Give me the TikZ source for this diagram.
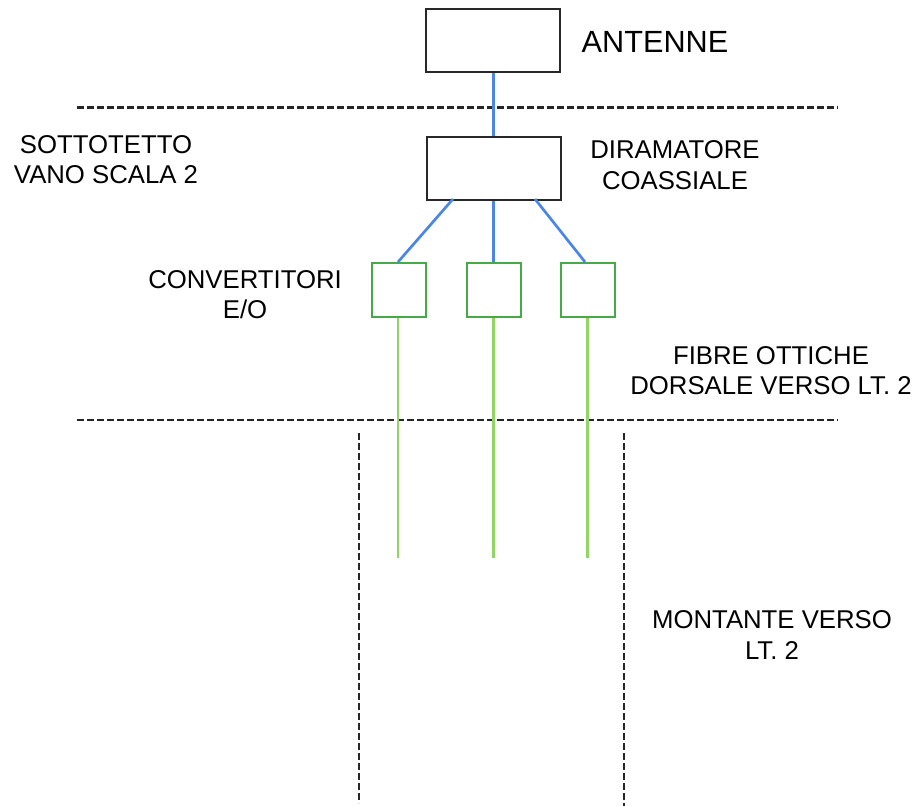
\documentclass[tikz,border=0pt]{standalone}
\usepackage{fontspec}
\setmainfont{Liberation Sans}
\definecolor{coaxblue}{RGB}{74,134,232}
\definecolor{convgreen}{RGB}{70,170,70}
\definecolor{fibregreen}{RGB}{147,212,102}
\definecolor{boxgray}{RGB}{40,40,40}
\begin{document}
\begin{tikzpicture}[x=0.75pt,y=-0.75pt,
  blackbox/.style={draw=boxgray,line width=1.8pt,fill=white,anchor=north west,inner sep=0pt,
                   minimum width=100.5pt,minimum height=47pt},
  convbox/.style={draw=convgreen,line width=1.5pt,fill=white,anchor=north west,inner sep=0pt,
                  minimum width=40.5pt,minimum height=40.5pt},
  coax/.style={draw=coaxblue,line width=2pt},
  fibre/.style={draw=fibregreen,line width=2pt},
  floorline/.style={draw=black!85,line width=2pt,dash pattern=on 5.2pt off 2.3pt},
  shaftline/.style={draw=black!85,line width=2pt,dash pattern=on 5pt off 2.5pt},
  label/.style={inner sep=0pt,align=center,font=\fontsize{19.3pt}{22.8pt}\selectfont},
  biglabel/.style={inner sep=0pt,font=\fontsize{23pt}{27pt}\selectfont}]
\useasboundingbox (0,0) rectangle (915,806);

% floor separations
\coordinate (f1a) at (77,107.5);
\coordinate (f1b) at (838,107.5);
\coordinate (f2a) at (77,420);
\coordinate (f2b) at (838,420);
\draw[floorline] (f1a) -- (f1b);
\draw[floorline] (f2a) -- (f2b);

% riser shaft
\coordinate (sLt) at (359,433);
\coordinate (sLb) at (359,803);
\coordinate (sRt) at (624,433);
\coordinate (sRb) at (624,806);
\draw[shaftline] (sLt) -- (sLb);
\draw[shaftline] (sRt) -- (sRb);

% antenna and coaxial splitter
\node[blackbox] (ant) at (425,8) {};
\node[blackbox] (spl) at (426,136) {};
\draw[coax] (ant.south) -- (ant.south |- spl.north);

% E/O converters
\node[convbox] (c1) at (371,262) {};
\node[convbox] (c2) at (466,262) {};
\node[convbox] (c3) at (559.5,262) {};

\coordinate (o1) at (453,199);
\coordinate (o3) at (535,199);
\draw[coax] (o1) -- (c1.north -| 398,0);
\draw[coax] (spl.south -| ant.south) -- (c2.north -| ant.south);
\draw[coax] (o3) -- (c3.north -| 585,0);

% optical fibres down the riser
\coordinate (e1) at (398,558);
\coordinate (e2) at (493.5,558);
\coordinate (e3) at (587.5,558);
\draw[fibre] (c1.south -| e1) -- (e1);
\draw[fibre] (c2.south -| e2) -- (e2);
\draw[fibre] (c3.south -| e3) -- (e3);

% labels
\node[biglabel] (tant) at (655,41.5) {ANTENNE};
\node[label] (tsot) at (106,159.5) {SOTTOTETTO\\VANO SCALA 2};
\node[label] (tspl) at (675,165) {DIRAMATORE\\COASSIALE};
\node[label] (tconv) at (245,294.5) {CONVERTITORI\\E/O};
\node[label] (tfib) at (771,370.5) {FIBRE OTTICHE\\DORSALE VERSO LT. 2};
\node[label] (tmon) at (772,635) {MONTANTE VERSO\\LT. 2};
\end{tikzpicture}
\end{document}
